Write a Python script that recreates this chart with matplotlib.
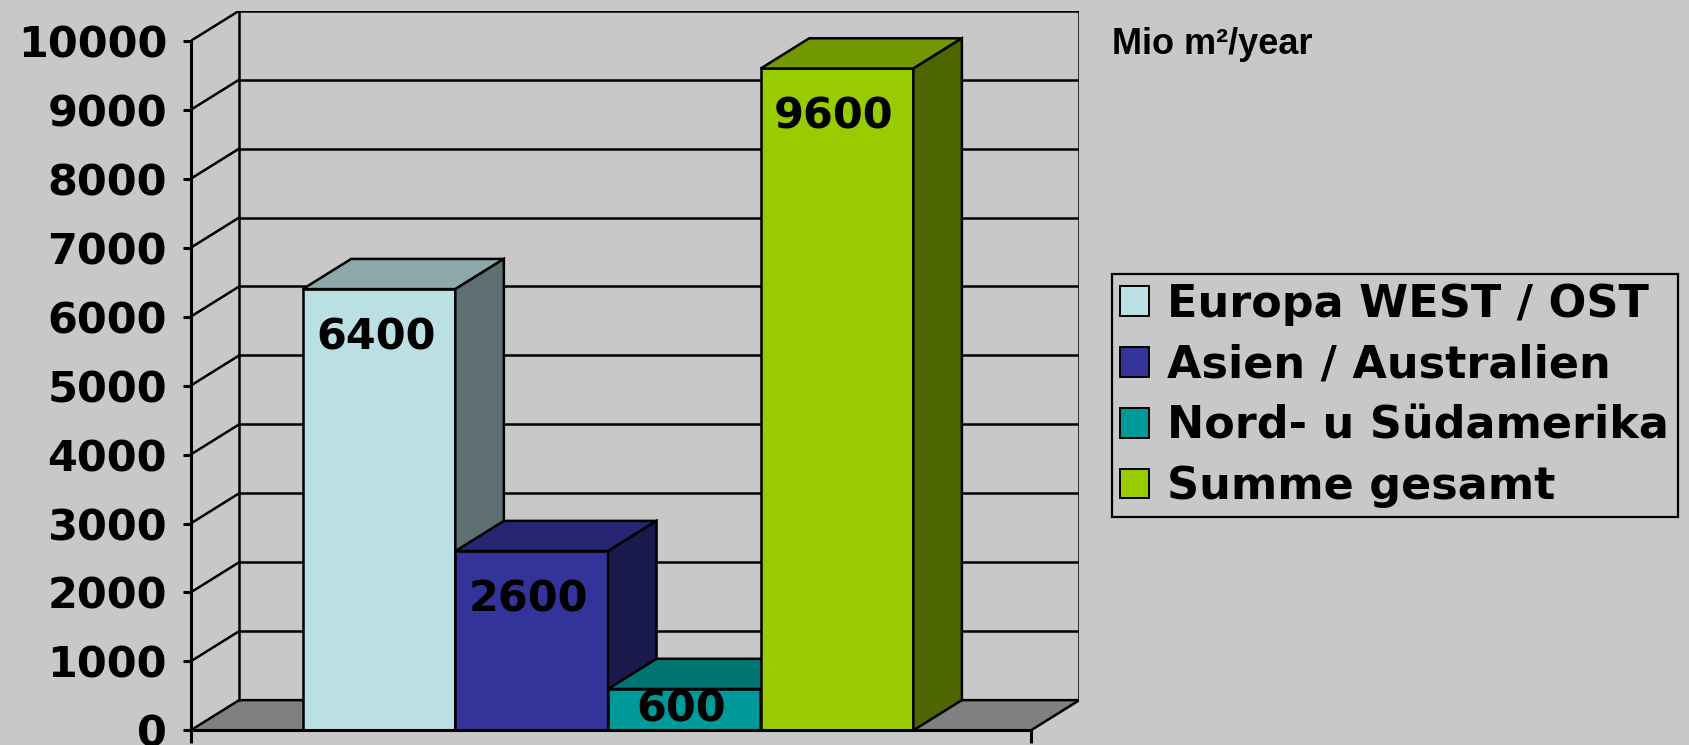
import matplotlib.pyplot as plt
from matplotlib.patches import Polygon, Patch

# data
series = ['Europa WEST / OST', 'Asien / Australien', 'Nord- u Südamerika', 'Summe gesamt']
values = [6400, 2600, 600, 9600]
front_colors = ['#bbe0e3', '#333399', '#009999', '#99cc00']
top_colors = ['#8ca8aa', '#262673', '#007373', '#739900']
side_colors = ['#5e7072', '#1a1a4d', '#004d4d', '#4d6600']
yticks = list(range(0, 10001, 1000))
unit_label = 'Mio m²/year'

bg = '#c8c8c8'
ymax = 10000
dx, dy = 0.0577, 438      # 3d depth offset, data units
bar_w = 0.1817
x_start = 0.1333
lw = 1.8
font = 'DejaVu Sans'

fig = plt.figure(figsize=(16.89, 7.45), dpi=100, facecolor=bg)
ax = fig.add_axes([0.1129, 0.0197, 0.5262, 0.9659])
ax.set_xlim(0, 1 + dx)
ax.set_ylim(0, ymax + dy)
ax.patch.set_visible(False)

# floor
ax.add_patch(Polygon([(0, 0), (1, 0), (1 + dx, dy), (dx, dy)], closed=True,
                     facecolor='#808080', edgecolor='black', lw=lw, zorder=1))
# back wall + side wall outline
ax.plot([dx, dx, 1 + dx, 1 + dx], [dy, ymax + dy, ymax + dy, dy], color='black', lw=lw, zorder=1)
ax.plot([0, dx], [ymax, ymax + dy], color='black', lw=lw, zorder=1)
# gridlines on back and side wall
for v in yticks[1:-1]:
    ax.plot([dx, 1 + dx], [v + dy, v + dy], color='black', lw=lw, zorder=1)
    ax.plot([0, dx], [v, v + dy], color='black', lw=lw, zorder=1)

# bars
for i, (v, fc, tc, sc) in enumerate(zip(values, front_colors, top_colors, side_colors)):
    x0 = x_start + i * bar_w
    x1 = x0 + bar_w
    ax.add_patch(Polygon([(x0, 0), (x1, 0), (x1, v), (x0, v)], closed=True,
                         facecolor=fc, edgecolor='black', lw=lw, zorder=3))
    ax.add_patch(Polygon([(x0, v), (x1, v), (x1 + dx, v + dy), (x0 + dx, v + dy)], closed=True,
                         facecolor=tc, edgecolor='black', lw=lw, zorder=3))
    ax.add_patch(Polygon([(x1, 0), (x1 + dx, dy), (x1 + dx, v + dy), (x1, v)], closed=True,
                         facecolor=sc, edgecolor='black', lw=lw, zorder=3))
    ax.text((x0 + x1) / 2 - 0.004, max(v - 700, v / 2), str(v), ha='center', va='center',
            fontsize=31, fontweight='bold', family=font, zorder=4)

# axes
for s in ['top', 'right']:
    ax.spines[s].set_visible(False)
ax.spines['left'].set_bounds(0, ymax)
ax.spines['bottom'].set_bounds(0, 1)
for s in ['left', 'bottom']:
    ax.spines[s].set_linewidth(2.2)
    ax.spines[s].set_zorder(5)
ax.set_yticks(yticks)
ax.set_yticklabels([str(v) for v in yticks], fontsize=31, fontweight='bold', family=font)
ax.tick_params(axis='y', length=6, width=2.2, pad=11)
ax.set_xticks([0, 1])
ax.set_xticklabels([])
ax.tick_params(axis='x', length=9, width=2.2)

handles = [Patch(facecolor=c, edgecolor='black', lw=1.4) for c in front_colors]
leg = fig.legend(handles, series, loc='upper left', bbox_to_anchor=(1111.6 / 1689, 1 - 274 / 745),
                 prop=dict(family=font, weight='bold', size=32), frameon=True, fancybox=False,
                 edgecolor='black', facecolor=bg, framealpha=1, borderpad=0.2,
                 handlelength=0.65, handleheight=0.65, handletextpad=0.4,
                 labelspacing=0.4, borderaxespad=0)
leg.get_frame().set_linewidth(1.6)

fig.text(1112 / 1689, 1 - 45 / 745, unit_label, ha='left', va='center',
         fontsize=26, fontweight='bold', family='Liberation Sans')

fig.savefig('out.png', dpi=100, facecolor=bg)
